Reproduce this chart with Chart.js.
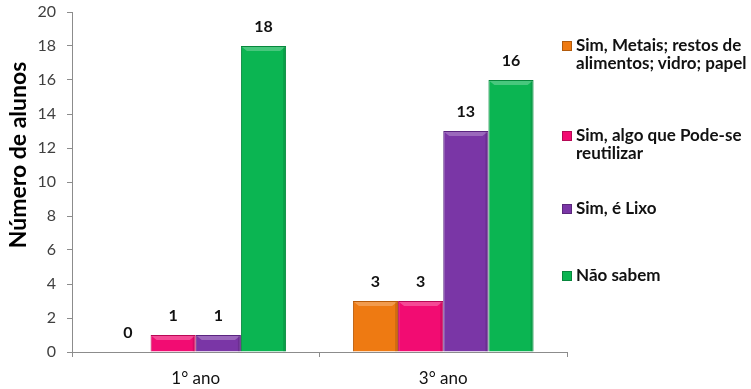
<!DOCTYPE html>
<html lang="pt">
<head>
    <meta charset="UTF-8">
    <title>Número de alunos</title>
    <script src="https://cdn.jsdelivr.net/npm/chart.js"></script>
    <style>
        html, body { margin: 0; padding: 0; background: #fff; }
        .wrap { position: relative; width: 751px; height: 389px; }
        #legend { position: absolute; left: 562px; top: 0; width: 189px; height: 389px;
                  font-family: Lato, "Open Sans", sans-serif; font-weight: bold; font-size: 17px;
                  color: #111; }
        .item { position: absolute; left: 0; display: flex; line-height: 18px; white-space: nowrap; }
        .box { width: 8px; height: 8px; margin-top: 5px; margin-right: 4px; flex: none;
               border: 1px solid rgba(0,0,0,0.25); }
    </style>
</head>
<body>
<div class="wrap">
    <canvas id="barChart" width="751" height="389"></canvas>
    <div id="legend"></div>
</div>
<script>
    // categories and series
    var categories = ['1° ano', '3° ano'];
    var seriesNames = [
        ['Sim, Metais; restos de', 'alimentos; vidro; papel'],
        ['Sim, algo que Pode-se', 'reutilizar'],
        ['Sim, é Lixo'],
        ['Não sabem']
    ];
    var metais = [0, 3];
    var reutilizar = [1, 3];
    var lixo = [1, 13];
    var naoSabem = [18, 16];
    var yTicks = [0, 2, 4, 6, 8, 10, 12, 14, 16, 18, 20];
    var yTitle = 'Número de alunos';

    var colors = ['#ee7a12', '#f20c72', '#7a36a6', '#0bb552'];
    var borders = ['#b85a08', '#b80855', '#5a2480', '#07873c'];
    var legendTops = [36, 126, 199, 266];

    var values = [metais, reutilizar, lixo, naoSabem];
    var datasets = values.map(function (v, i) {
        return {
            label: seriesNames[i].join(' '),
            data: v,
            backgroundColor: colors[i],
            borderColor: borders[i],
            borderWidth: 1,
            borderSkipped: 'bottom'
        };
    });

    // bevel highlight on top of each bar
    var bevel = {
        id: 'bevel',
        afterDatasetsDraw: function (chart) {
            var ctx = chart.ctx;
            chart.data.datasets.forEach(function (ds, i) {
                chart.getDatasetMeta(i).data.forEach(function (bar) {
                    var h = bar.base - bar.y;
                    if (h < 2) return;
                    var left = bar.x - bar.width / 2, w = bar.width;
                    var band = Math.min(5, h / 2);
                    ctx.save();
                    ctx.fillStyle = 'rgba(255,255,255,0.25)';
                    ctx.beginPath();
                    ctx.moveTo(left + 1, bar.y + 1);
                    ctx.lineTo(left + w - 1, bar.y + 1);
                    ctx.lineTo(left + w - 1 - band, bar.y + band);
                    ctx.lineTo(left + 1 + band, bar.y + band);
                    ctx.closePath();
                    ctx.fill();
                    ctx.fillStyle = 'rgba(0,0,0,0.12)';
                    ctx.fillRect(left + w - 3, bar.y + 1, 2, h - 1);
                    ctx.restore();
                });
            });
        }
    };

    // value labels above bars + y axis title (sits a bit above the middle, like the original)
    var valueLabels = {
        id: 'valueLabels',
        afterDatasetsDraw: function (chart) {
            var ctx = chart.ctx;
            ctx.save();
            ctx.font = 'bold 16px Lato, "Open Sans", sans-serif';
            ctx.fillStyle = '#111';
            ctx.textAlign = 'center';
            ctx.textBaseline = 'middle';
            chart.data.datasets.forEach(function (ds, i) {
                chart.getDatasetMeta(i).data.forEach(function (bar, j) {
                    ctx.fillText(ds.data[j], bar.x, bar.y - 19);
                });
            });
            ctx.restore();

            ctx.save();
            ctx.translate(19, 155);
            ctx.rotate(-Math.PI / 2);
            ctx.font = 'bold 23px Lato, "Open Sans", sans-serif';
            ctx.fillStyle = '#000';
            ctx.textAlign = 'center';
            ctx.textBaseline = 'middle';
            ctx.fillText(yTitle, 0, 0);
            ctx.restore();
        }
    };

    var chart = new Chart(document.getElementById('barChart').getContext('2d'), {
        type: 'bar',
        data: { labels: categories, datasets: datasets },
        plugins: [bevel, valueLabels],
        options: {
            responsive: false,
            animation: false,
            layout: { padding: { top: 12, right: 184, left: 0, bottom: 0 } },
            plugins: { legend: { display: false }, tooltip: { enabled: false } },
            datasets: { bar: { categoryPercentage: 0.73, barPercentage: 1 } },
            scales: {
                x: {
                    grid: { display: true, drawOnChartArea: false, tickLength: 5, color: '#8c8c8c' },
                    border: { color: '#8c8c8c' },
                    ticks: {
                        padding: 11,
                        color: '#111',
                        font: { family: 'Lato, "Open Sans", sans-serif', size: 17 }
                    },
                    afterFit: function (scale) {
                        scale.height = 37;
                        scale.paddingLeft = 0;
                        scale.paddingRight = 0;
                    }
                },
                y: {
                    min: 0,
                    max: 20,
                    afterBuildTicks: function (scale) {
                        scale.ticks = yTicks.map(function (v) { return { value: v }; });
                    },
                    grid: { display: true, drawOnChartArea: false, tickLength: 5, color: '#8c8c8c' },
                    border: { color: '#8c8c8c' },
                    ticks: {
                        padding: 11,
                        color: '#404040',
                        font: { family: 'Lato, "Open Sans", sans-serif', size: 16 }
                    },
                    afterFit: function (scale) {
                        scale.width = 72;
                        scale.paddingTop = 0;
                        scale.paddingBottom = 0;
                    }
                }
            }
        }
    });

    // legend built from the series
    var legend = document.getElementById('legend');
    seriesNames.forEach(function (lines, i) {
        var item = document.createElement('div');
        item.className = 'item';
        item.style.top = legendTops[i] + 'px';
        var box = document.createElement('span');
        box.className = 'box';
        box.style.background = colors[i];
        var txt = document.createElement('span');
        txt.innerHTML = lines.join('<br>');
        item.appendChild(box);
        item.appendChild(txt);
        legend.appendChild(item);
    });
</script>
</body>
</html>
